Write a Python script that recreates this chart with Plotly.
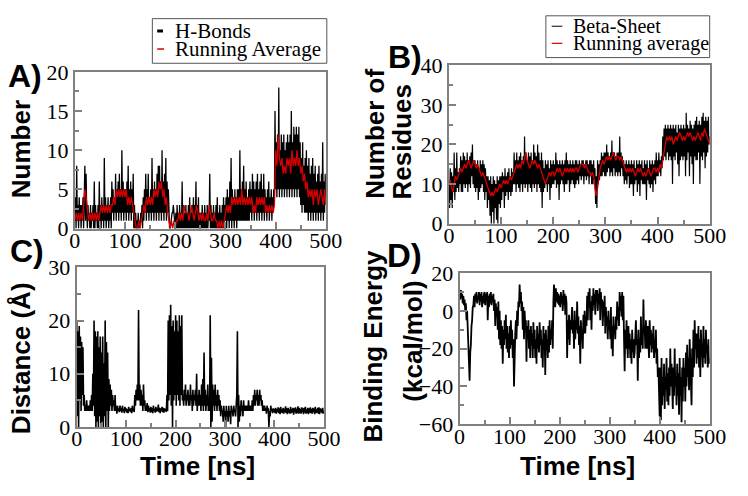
import numpy as np
import plotly.graph_objects as go

# ---------------- data ----------------
time_step_raw = 1.25  # ns between raw samples
time_step_avg = 2.5   # ns between running-average samples

hbonds = [
    1, 4, 0, 8, 1, 3, 0, 4, 1, 3, 0, 3, 1, 4, 0, 3, 8, 1, 7, 2,
    0, 3, 1, 2, 0, 3, 0, 2, 1, 3, 0, 6, 0, 3, 1, 2, 0, 3, 0, 6,
    1, 3, 0, 4, 1, 3, 0, 9, 1, 4, 0, 3, 1, 4, 0, 3, 1, 4, 0, 6,
    2, 5, 1, 4, 2, 7, 1, 5, 2, 6, 1, 7, 2, 5, 1, 10, 2, 6, 1, 5,
    2, 5, 1, 6, 2, 8, 1, 5, 2, 6, 1, 5, 2, 7, 0, 3, 0, 2, 0, 1,
    0, 2, 0, 1, 0, 2, 1, 3, 0, 4, 1, 5, 2, 7, 1, 5, 2, 7, 1, 4,
    2, 5, 1, 9, 2, 5, 1, 6, 2, 5, 1, 7, 2, 8, 1, 8, 2, 6, 1, 10,
    2, 6, 1, 7, 2, 9, 1, 6, 2, 5, 0, 0, 0, 1, 1, 2, 2, 3, 2, 1,
    0, 2, 0, 3, 0, 2, 0, 3, 0, 2, 0, 6, 0, 3, 0, 2, 0, 3, 0, 2,
    0, 3, 0, 4, 0, 2, 0, 3, 0, 4, 0, 3, 0, 6, 0, 3, 0, 4, 0, 2,
    0, 2, 0, 3, 0, 2, 0, 3, 0, 2, 0, 3, 0, 2, 1, 7, 0, 3, 0, 2,
    0, 3, 0, 2, 0, 3, 0, 4, 0, 2, 0, 3, 0, 2, 0, 3, 0, 4, 0, 3,
    1, 4, 0, 5, 1, 4, 0, 6, 1, 9, 0, 5, 1, 4, 0, 5, 1, 4, 0, 5,
    1, 5, 1, 10, 1, 5, 1, 6, 1, 8, 1, 5, 1, 6, 1, 4, 1, 5, 1, 6,
    2, 5, 1, 7, 2, 6, 1, 5, 2, 6, 1, 7, 2, 5, 1, 6, 2, 7, 1, 5,
    2, 7, 1, 5, 2, 4, 1, 5, 2, 6, 1, 4, 2, 5, 1, 4, 2, 5, 3, 15,
    5, 11, 4, 12, 5, 18, 4, 10, 5, 12, 4, 11, 5, 12, 4, 10, 5, 11, 4, 12,
    5, 11, 4, 12, 5, 15, 4, 11, 5, 13, 4, 12, 5, 13, 4, 12, 5, 13, 4, 11,
    3, 9, 2, 11, 3, 8, 2, 9, 2, 10, 2, 8, 1, 9, 2, 7, 1, 8, 2, 9,
    1, 7, 2, 8, 1, 6, 2, 7, 1, 8, 2, 6, 1, 7, 2, 11, 1, 6, 2, 7,
    4,
]
hbonds_avg = [
    1, 2, 1, 2, 1, 2, 1, 3, 5, 4,
    2, 1, 2, 1, 2, 1, 2, 1, 2, 1,
    2, 3, 2, 3, 2, 3, 2, 3, 2, 3,
    3, 4, 3, 5, 4, 5, 4, 5, 4, 5,
    4, 5, 3, 4, 3, 4, 3, 2, 1, 0,
    0, 1, 0, 1, 2, 3, 2, 4, 3, 4,
    3, 4, 3, 5, 4, 5, 4, 6, 5, 6,
    4, 5, 3, 4, 2, 1, 0, 1, 0, 1,
    0, 1, 1, 2, 1, 2, 1, 3, 2, 2,
    2, 1, 2, 3, 2, 1, 2, 3, 2, 1,
    2, 1, 2, 1, 1, 2, 1, 3, 2, 1,
    1, 2, 1, 1, 0, 1, 0, 1, 0, 1,
    2, 3, 2, 3, 2, 4, 3, 4, 3, 4,
    3, 4, 3, 5, 3, 4, 3, 4, 3, 4,
    3, 4, 2, 3, 2, 4, 3, 4, 3, 4,
    3, 4, 2, 3, 2, 3, 2, 3, 2, 3,
    10, 8, 12, 9, 8, 9, 7, 8, 7, 9,
    8, 9, 7, 10, 8, 9, 8, 10, 8, 9,
    7, 8, 6, 7, 5, 6, 4, 5, 4, 5,
    3, 5, 4, 5, 3, 4, 5, 4, 3, 5,
    3,
]

beta_sheet = [
    10, 4, 14, 6, 13, 4, 12, 8, 18, 6, 14, 8, 18, 9, 13, 8, 14, 10, 17, 8,
    16, 8, 18, 10, 17, 9, 16, 10, 18, 8, 16, 10, 17, 9, 18, 12, 20, 10, 16, 9,
    16, 8, 15, 9, 16, 6, 14, 8, 16, 9, 15, 10, 16, 8, 15, 6, 14, 8, 12, 4,
    12, 6, 11, 2, 12, 0, 10, 3, 12, 0, 11, 4, 10, 1, 12, 0, 11, 5, 12, 4,
    12, 6, 13, 8, 12, 4, 14, 7, 12, 8, 13, 6, 14, 8, 12, 7, 14, 8, 13, 10,
    18, 10, 16, 8, 18, 10, 16, 9, 17, 8, 18, 10, 16, 8, 17, 10, 22, 9, 18, 10,
    16, 8, 18, 10, 17, 9, 18, 8, 16, 10, 20, 9, 18, 10, 17, 8, 20, 10, 18, 9,
    16, 8, 18, 4, 16, 8, 14, 9, 16, 10, 15, 8, 16, 10, 14, 6, 16, 9, 15, 10,
    16, 10, 15, 11, 18, 9, 16, 10, 15, 6, 16, 10, 15, 11, 16, 10, 15, 8, 16, 10,
    18, 10, 16, 11, 15, 8, 16, 10, 15, 11, 16, 10, 15, 9, 16, 10, 16, 11, 15, 10,
    16, 12, 15, 11, 16, 12, 16, 10, 15, 12, 16, 11, 16, 12, 15, 10, 16, 12, 16, 10,
    15, 10, 16, 11, 14, 5, 12, 4, 16, 10, 15, 11, 16, 12, 18, 12, 17, 13, 18, 12,
    18, 12, 20, 13, 18, 14, 17, 12, 18, 13, 21, 12, 18, 14, 18, 12, 17, 13, 18, 12,
    18, 13, 22, 12, 18, 14, 17, 12, 16, 10, 15, 11, 16, 10, 15, 12, 16, 9, 15, 10,
    16, 10, 15, 7, 16, 10, 14, 11, 16, 8, 15, 10, 16, 7, 15, 11, 16, 10, 14, 10,
    16, 10, 15, 6, 16, 11, 14, 10, 16, 9, 15, 10, 16, 8, 15, 11, 16, 10, 18, 12,
    16, 12, 18, 13, 16, 12, 17, 14, 22, 16, 24, 17, 25, 16, 24, 18, 25, 16, 24, 17,
    25, 16, 24, 10, 25, 17, 24, 16, 25, 18, 23, 15, 25, 12, 24, 16, 25, 17, 24, 16,
    25, 17, 24, 12, 28, 16, 25, 18, 24, 12, 26, 17, 25, 15, 24, 10, 25, 17, 26, 16,
    27, 16, 25, 18, 26, 10, 25, 17, 27, 16, 28, 18, 26, 14, 27, 17, 26, 18, 27, 20,
    22,
]
beta_sheet_avg = [
    10, 11, 9, 8, 10, 12, 11, 12, 13, 14,
    13, 14, 15, 14, 15, 16, 15, 14, 15, 16,
    15, 14, 15, 14, 13, 12, 13, 12, 11, 10,
    9, 8, 7, 8, 7, 8, 9, 8, 9, 10,
    9, 10, 11, 10, 11, 10, 11, 12, 11, 12,
    13, 14, 15, 14, 15, 14, 16, 15, 17, 18,
    16, 15, 14, 15, 16, 15, 16, 15, 14, 15,
    14, 13, 12, 11, 10, 11, 12, 13, 12, 13,
    13, 12, 13, 14, 13, 14, 13, 12, 13, 14,
    13, 14, 13, 14, 13, 14, 13, 14, 14, 13,
    14, 15, 15, 15, 14, 15, 14, 13, 13, 12,
    13, 12, 9, 7, 9, 12, 14, 15, 16, 15,
    16, 17, 16, 17, 16, 17, 18, 17, 16, 17,
    17, 16, 17, 16, 15, 14, 13, 14, 13, 14,
    13, 14, 13, 12, 13, 14, 13, 14, 13, 12,
    13, 12, 13, 14, 13, 12, 13, 14, 14, 13,
    14, 13, 15, 14, 16, 18, 20, 22, 21, 22,
    21, 22, 20, 21, 22, 21, 22, 23, 22, 21,
    22, 21, 22, 23, 22, 23, 22, 21, 22, 21,
    22, 23, 22, 21, 23, 22, 24, 23, 22, 21,
    20,
]

distance = [
    20, 2, 18, 0, 19, 5, 17, 3, 16, 6, 15, 4, 6, 3, 4, 3, 5, 3, 4, 3,
    4, 3, 5, 3, 6, 3, 10, 4, 20, 2, 18, 0, 17, 1, 18, 0, 15, 2, 17, 0,
    14, 1, 17, 0, 12, 2, 20, 0, 16, 3, 14, 0, 9, 3, 8, 4, 7, 3, 6, 4,
    5, 3, 6, 3, 4, 2.5, 4, 3, 3.5, 2.8, 4, 3, 3.6, 2.7, 4, 3, 3.4, 2.6, 3.8, 3,
    3.5, 2.7, 3.3, 2.6, 3.8, 3, 3.4, 2.8, 3.6, 2.6, 4, 3, 3.3, 2.8, 6, 4, 7, 5, 8, 5,
    22, 5, 8, 4, 7, 4, 6, 3, 8, 4, 5, 3, 4, 3, 4.5, 2.8, 4, 3, 3.6, 2.7,
    3.8, 2.8, 3.5, 2.6, 4, 3, 3.4, 2.7, 3.8, 2.9, 3.5, 3, 4.2, 2.8, 3.6, 2.6, 3.5, 3, 3.8, 2.8,
    3.6, 2.7, 3.5, 3, 3.4, 2.8, 6, 3, 20, 5, 21, 6, 23, 4, 19, 0, 20, 5, 18, 6,
    21, 4, 20, 6, 18, 5, 21, 4, 19, 6, 21, 5, 6, 4, 7, 5, 8, 4, 6, 5,
    7, 4, 6, 4, 8, 5, 6, 3, 7, 4, 6, 5, 7, 4, 10, 3, 6, 4, 7, 4,
    6, 3, 8, 4, 9, 3, 14, 4, 7, 3, 6, 4, 8, 3, 5, 3, 21, 0, 13, 1,
    8, 4, 7, 3, 8, 4, 6, 3, 7, 4, 6, 3, 5, 2, 4, 3, 3, 1, 4, 2,
    3, 0, 4, 2, 3, 1, 4, 2, 3, 0.5, 4, 3, 3, 2, 4, 3, 3, 2, 4, 6,
    18, 0, 6, 1, 4, 2, 5, 3, 4, 2, 5, 3, 4, 3, 4, 3, 4, 3, 5, 3,
    4, 3, 4, 3, 5, 3, 6, 4, 7, 4, 6, 5, 7, 4, 6, 4, 7, 5, 6, 4,
    5, 3, 4, 3, 4, 3, 3.5, 2.5, 4, 3, 3.5, 0, 3, 2, 4, 3, 3.4, 2.6, 3.5, 2.8,
    3.4, 2.6, 3.6, 2.5, 3.3, 2.8, 3.7, 2.6, 3.5, 2.4, 3.8, 2.7, 3.3, 2.6, 3.6, 2.5, 3.4, 2.8, 3.9, 2.6,
    3.5, 2.4, 3.6, 2.7, 3.3, 2.5, 3.8, 2.6, 3.4, 2.7, 3.6, 2.3, 3.5, 2.8, 3.7, 2.5, 3.4, 2.6, 3.9, 2.5,
    3.6, 2.6, 3.4, 2.5, 3.7, 2.8, 3.5, 2.4, 3.6, 2.7, 3.8, 2.5, 3.3, 2.6, 3.6, 2.4, 3.5, 2.7, 3.7, 2.6,
    3.4, 2.5, 3.6, 2.8, 3.5, 2.4, 3.8, 2.6, 3.3, 2.7, 3.6, 2.5, 3.7, 2.4, 3.5, 2.8, 3.4, 2.6, 3.6, 2.5,
    3.0,
]

binding_energy = [
    10, 6, 11, 7, 9, 4, 8, 3, 6, 0, 4, -5, 0, -12, -15, -30, -37, -22, -18, -8,
    -5, 2, 3, 8, 2, 9, 5, 10, 4, 8, 6, 10, 3, 9, 5, 10, 2, 8, 4, 9,
    10, 3, 9, 5, 10, -5, 8, 2, 9, 4, 10, 3, 8, 5, 9, 0, 6, -8, 4, -3,
    2, -10, 5, -15, 0, -18, -5, -20, -8, -28, -10, -18, -5, -15, -2, -20, -8, -22, -12, -25,
    -8, -20, -5, -18, -10, -25, -15, -40, -20, -12, -5, -15, 0, -8, 5, 2, 14, 4, 10, 0,
    5, -10, 2, -15, 0, -8, -5, -27, -8, -15, -5, -20, -10, -25, -8, -18, -12, -25, -6, -20,
    -10, -25, -15, -28, -8, -20, -12, -22, -6, -18, -10, -25, -15, -30, -8, -20, -12, -34, -10, -20,
    -15, -25, -8, -22, -5, -18, -10, -15, -5, -20, 5, 14, 8, 2, 12, 5, 10, 4, 9, 3,
    8, 2, 10, 4, 8, 0, 11, 3, 9, -2, 8, 4, -25, -5, -15, -2, -18, -5, -10, 0,
    2, -12, -5, -20, 0, -15, -5, -10, 5, -12, -3, -18, -8, -28, -5, -15, -10, -20, -2, -12,
    0, -12, -3, -8, 8, -5, 10, 2, 12, -5, 5, -10, 8, 0, 12, 3, 9, -2, 11, 5,
    11, 0, 9, 4, 12, -5, 10, 2, 6, -8, 5, -3, 8, -12, 2, -8, -3, -15, 0, -10,
    -5, -15, 2, -20, -8, -24, -3, -12, -8, -15, -3, -10, 5, -5, 2, -8, 10, 0, 8, -3,
    10, -5, 8, -15, -32, -10, -20, -5, -18, -25, -8, -20, -12, -25, -15, -28, -10, -22, -15, -25,
    -22, -10, -5, -18, -15, -37, -10, -25, -15, -22, -3, -18, -10, -20, 6, -12, -8, -20, -5, -15,
    -20, -8, -15, -25, -5, -18, -10, -22, -12, -20, -8, -25, -15, -22, -10, -28, -20, -35, -30, -45,
    -56, -30, -58, -25, -50, -35, -45, -28, -52, -35, -42, -25, -48, -33, -50, -30, -45, -20, -40, -28,
    -38, -52, -30, -45, -20, -40, -35, -50, -28, -45, -33, -55, -25, -45, -35, -59, -30, -48, -25, -40,
    -30, -48, -22, -40, -18, -35, -25, -42, -15, -30, -28, -50, -20, -35, -10, -30, -5, -20, -12, -28,
    -12, -25, -8, -30, -15, -35, -10, -22, -20, -30, -8, -25, -15, -28, -10, -22, -18, -30, -15, -28,
    -25,
]

t_raw = np.arange(len(hbonds)) * time_step_raw
t_avg = np.arange(len(hbonds_avg)) * time_step_avg

# ---------------- layout helpers (pixel -> paper) ----------------
W, H = 748, 496
def px(x):
    return x / W
def py(y):
    return 1 - y / H

SERIF = "Liberation Serif, Times New Roman, serif"
SANS = "Liberation Sans, Arial, sans-serif"
FRAME = "#808080"
RED = "#d40000"

def make_axis(domain, anchor, rng, dtick, minor_dtick, standoff):
    return dict(
        domain=domain, anchor=anchor, range=rng,
        showline=True, linecolor=FRAME, linewidth=2, mirror=True,
        ticks="inside", ticklen=7, tickwidth=1.5, tickcolor=FRAME,
        showgrid=False, zeroline=False,
        tickmode="linear", tick0=rng[0], dtick=dtick,
        minor=dict(ticks="inside", ticklen=4, tickwidth=1.5, tickcolor=FRAME, dtick=minor_dtick),
        tickfont=dict(family=SERIF, size=22, color="black", weight="normal"),
        ticklabelstandoff=standoff,
    )

fig = go.Figure()

# A
fig.add_trace(go.Scatter(x=t_raw, y=hbonds, mode="lines", name="H-Bonds",
                         line=dict(color="black", width=1.3), xaxis="x", yaxis="y", showlegend=False))
fig.add_trace(go.Scatter(x=t_avg, y=hbonds_avg, mode="lines", name="Running Average",
                         line=dict(color=RED, width=1.3), xaxis="x", yaxis="y", showlegend=False))
# B
fig.add_trace(go.Scatter(x=t_raw, y=beta_sheet, mode="lines", name="Beta-Sheet",
                         line=dict(color="black", width=1.2), xaxis="x2", yaxis="y2", showlegend=False))
fig.add_trace(go.Scatter(x=t_avg, y=beta_sheet_avg, mode="lines", name="Running average",
                         line=dict(color=RED, width=1.3), xaxis="x2", yaxis="y2", showlegend=False))
# C
fig.add_trace(go.Scatter(x=t_raw, y=distance, mode="lines", name="Distance",
                         line=dict(color="black", width=1.6), xaxis="x3", yaxis="y3", showlegend=False))
# D
fig.add_trace(go.Scatter(x=t_raw, y=binding_energy, mode="lines", name="Binding Energy",
                         line=dict(color="black", width=1.8), xaxis="x4", yaxis="y4", showlegend=False))

fig.update_layout(
    width=W, height=H, margin=dict(l=0, r=0, t=0, b=0),
    paper_bgcolor="white", plot_bgcolor="white",
    font=dict(family=SERIF, size=22, color="black"),
    xaxis=make_axis([px(71), px(330)], "y", [0, 500], 100, 50, -9),
    yaxis=make_axis([py(228), py(63)], "x", [0, 20], 5, 2.5, 0),
    xaxis2=make_axis([px(457), px(726)], "y2", [0, 500], 100, 50, -9),
    yaxis2=make_axis([py(223), py(56)], "x2", [0, 40], 10, 5, 0),
    xaxis3=make_axis([px(73), px(328)], "y3", [0, 500], 100, 50, -9),
    yaxis3=make_axis([py(437), py(269)], "x3", [0, 30], 10, 5, 0),
    xaxis4=make_axis([px(468), px(726)], "y4", [0, 500], 100, 50, -9),
    yaxis4=make_axis([py(434), py(275)], "x4", [-60, 20], 20, 10, 0),
)

ann = []
def text(x, y, s, size, family=SANS, bold=True, angle=0, xanchor="center"):
    ann.append(dict(x=px(x), y=py(y), xref="paper", yref="paper", text=s,
                    showarrow=False, textangle=angle, xanchor=xanchor, yanchor="middle",
                    font=dict(family=family, size=size, color="black",
                              weight="bold" if bold else "normal")))

# panel letters
text(20, 67, "A)", 32)
text(412, 47, "B)", 32)
text(22, 252, "C)", 32)
text(411, 256, "D)", 33)
# axis titles
text(15, 145, "Number", 26, angle=-90)
text(380, 128, "Number of", 26, angle=-90)
text(409, 136, "Residues", 26, angle=-90)
text(15, 365, "Distance (Å)", 26, angle=-90)
text(379, 352, "Binding Energy", 26, angle=-90)
text(419, 347, "(kcal/mol)", 26, angle=-90)
text(198, 478, "Time [ns]", 26)
text(590, 478, "Time [ns]", 26)
# legends
text(172, 20, "H-Bonds", 21, family=SERIF, bold=False, xanchor="left")
text(172, 39, "Running Average", 21, family=SERIF, bold=False, xanchor="left")
text(583, 15, "Beta-Sheet", 20, family=SERIF, bold=False, xanchor="left")
text(583, 33, "Running average", 20, family=SERIF, bold=False, xanchor="left")

shapes = [
    dict(type="rect", xref="paper", yref="paper", x0=px(151), x1=px(331), y0=py(54), y1=py(7),
         line=dict(color="#555555", width=1), fillcolor="white", layer="below"),
    dict(type="line", xref="paper", yref="paper", x0=px(156), x1=px(162), y0=py(20), y1=py(20),
         line=dict(color="black", width=3)),
    dict(type="line", xref="paper", yref="paper", x0=px(156), x1=px(163), y0=py(39), y1=py(39),
         line=dict(color=RED, width=1.5)),
    dict(type="rect", xref="paper", yref="paper", x0=px(557), x1=px(726), y0=py(48), y1=py(4),
         line=dict(color="#555555", width=1), fillcolor="white", layer="below"),
    dict(type="line", xref="paper", yref="paper", x0=px(563), x1=px(574), y0=py(15), y1=py(15),
         line=dict(color="black", width=1)),
    dict(type="line", xref="paper", yref="paper", x0=px(563), x1=px(574), y0=py(33), y1=py(33),
         line=dict(color=RED, width=1.2)),
]
fig.update_layout(annotations=ann, shapes=shapes)

fig.write_html("out.html")
